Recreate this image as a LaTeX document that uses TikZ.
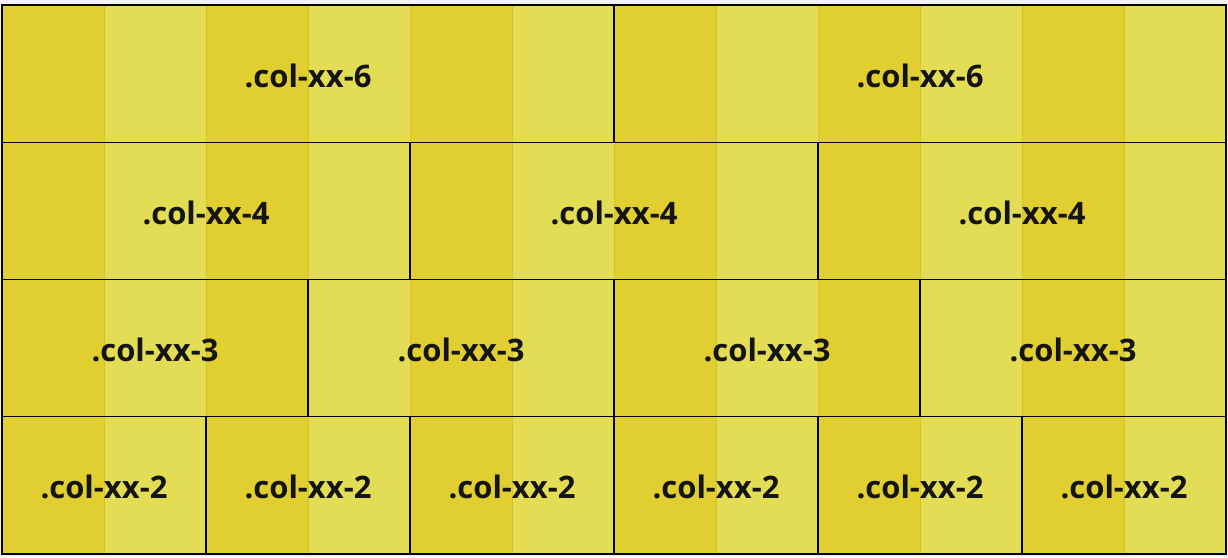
\documentclass[tikz,border=0pt]{standalone}
\usepackage{fontspec}
\setmainfont{Open Sans}
\definecolor{stripeDark}{RGB}{225,206,48}
\definecolor{stripeLight}{RGB}{227,221,86}
\definecolor{stripeEdge}{RGB}{214,194,40}
\definecolor{pageBg}{RGB}{242,242,242}
\tikzset{
  cell/.style={draw=black, line width=1.3pt, inner sep=0pt, outer sep=0pt,
    font=\fontsize{31}{36}\selectfont\bfseries, text=black!92,
    text height=27pt, text depth=0pt},
  stripeD/.style={fill=stripeDark, draw=stripeEdge, line width=0.6pt},
  stripeL/.style={fill=stripeLight, draw=stripeEdge, line width=0.6pt},
}
\begin{document}
\begin{tikzpicture}[x=1pt,y=-1pt]
\useasboundingbox (0,0) rectangle (1228,557);
\fill[pageBg] (0,0) rectangle (1228,557);
% background stripes
\foreach \i in {0,2,...,10} {
  \path[stripeD] ({2+\i*102},5) rectangle ({2+(\i+1)*102},554);
  \path[stripeL] ({2+(\i+1)*102},5) rectangle ({2+(\i+2)*102},554);
}
% row 1
\node[cell, minimum width=612pt, minimum height=137.25pt] (r1a) at (308,73.6) {.col-xx-6};
\node[cell, minimum width=612pt, minimum height=137.25pt] (r1b) at (920,73.6) {.col-xx-6};
% row 2
\node[cell, minimum width=408pt, minimum height=137.25pt] (r2a) at (206,210.9) {.col-xx-4};
\node[cell, minimum width=408pt, minimum height=137.25pt] (r2b) at (614,210.9) {.col-xx-4};
\node[cell, minimum width=408pt, minimum height=137.25pt] (r2c) at (1022,210.9) {.col-xx-4};
% row 3
\node[cell, minimum width=306pt, minimum height=137.25pt] (r3a) at (155,348.1) {.col-xx-3};
\node[cell, minimum width=306pt, minimum height=137.25pt] (r3b) at (461,348.1) {.col-xx-3};
\node[cell, minimum width=306pt, minimum height=137.25pt] (r3c) at (767,348.1) {.col-xx-3};
\node[cell, minimum width=306pt, minimum height=137.25pt] (r3d) at (1073,348.1) {.col-xx-3};
% row 4
\node[cell, minimum width=204pt, minimum height=137.25pt] (r4a) at (104,485.4) {.col-xx-2};
\node[cell, minimum width=204pt, minimum height=137.25pt] (r4b) at (308,485.4) {.col-xx-2};
\node[cell, minimum width=204pt, minimum height=137.25pt] (r4c) at (512,485.4) {.col-xx-2};
\node[cell, minimum width=204pt, minimum height=137.25pt] (r4d) at (716,485.4) {.col-xx-2};
\node[cell, minimum width=204pt, minimum height=137.25pt] (r4e) at (920,485.4) {.col-xx-2};
\node[cell, minimum width=204pt, minimum height=137.25pt] (r4f) at (1124,485.4) {.col-xx-2};
\end{tikzpicture}
\end{document}
